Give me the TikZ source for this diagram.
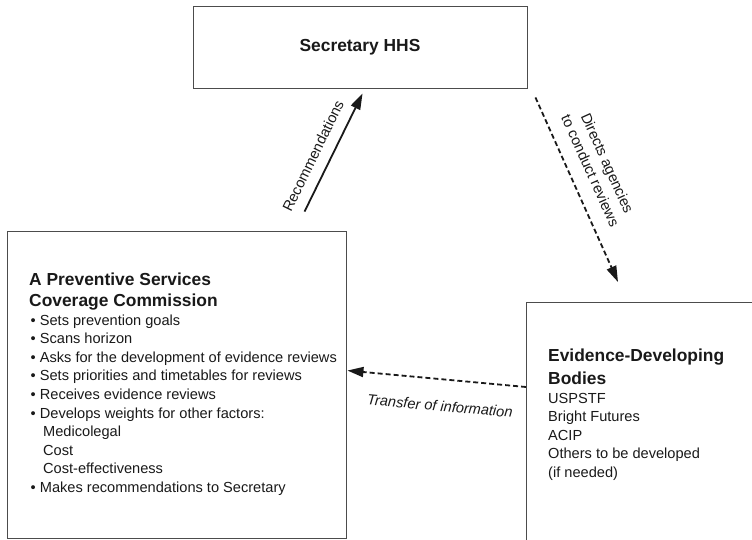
\documentclass[tikz,border=0pt]{standalone}
\usepackage{fontspec}
\setmainfont{Liberation Sans}
\usetikzlibrary{arrows.meta,calc}
\begin{document}
\begin{tikzpicture}[x=1pt,y=-1pt,
  box/.style={draw=black!70, line width=0.9pt, rectangle, inner sep=0pt},
  ttl/.style={font=\fontsize{17.4}{21}\selectfont\bfseries, anchor=base west, inner sep=0pt, text=black!90},
  txt/.style={font=\fontsize{14.6}{18.6}\selectfont, anchor=base west, inner sep=0pt, text=black!90},
  solidarrow/.style={line width=1.8pt, draw=black!90, -{Triangle[length=16pt,width=10pt]}},
  dasharrow/.style={line width=1.8pt, draw=black!90, dash pattern=on 5pt off 3pt, -{Triangle[length=16pt,width=10pt]}}]
\useasboundingbox (0,0) rectangle (752,540);
\clip (0,0) rectangle (752,540);

% boxes
\node[box, minimum width=334pt, minimum height=82pt, text=black!90,
      font=\fontsize{17.4}{21}\selectfont\bfseries] (hhs) at (360,47) {Secretary HHS};
\node[box, minimum width=339pt, minimum height=307pt] (lbox) at (176.5,384.5) {};
\node[box, minimum width=300pt, minimum height=300pt, anchor=north west] (rbox) at (526,302) {};

% left box text
\node[ttl] (lt1) at (29,285) {A Preventive Services};
\node[ttl] (lt2) at (29,306) {Coverage Commission};
\node[txt] (l1) at (30.5,325) {• Sets prevention goals};
\node[txt] (l2) at (30.5,343.6) {• Scans horizon};
\node[txt] (l3) at (30.5,362.2) {• Asks for the development of evidence reviews};
\node[txt] (l4) at (30.5,380.8) {• Sets priorities and timetables for reviews};
\node[txt] (l5) at (30.5,399.4) {• Receives evidence reviews};
\node[txt] (l6) at (30.5,418) {• Develops weights for other factors:};
\node[txt] (l7) at (43,436.6) {Medicolegal};
\node[txt] (l8) at (43,455.2) {Cost};
\node[txt] (l9) at (43,473.8) {Cost-effectiveness};
\node[txt] (l10) at (30.5,492.4) {• Makes recommendations to Secretary};

% right box text
\node[ttl] (rt1) at (548,361) {Evidence-Developing};
\node[ttl] (rt2) at (548,384) {Bodies};
\node[txt] (r1) at (548,403) {USPSTF};
\node[txt] (r2) at (548,421.5) {Bright Futures};
\node[txt] (r3) at (548,440) {ACIP};
\node[txt] (r4) at (548,458.5) {Others to be developed};
\node[txt] (r5) at (548,477) {(if needed)};

% connectors
\draw[solidarrow] ($(lbox.north west)+(298,-19)$) -- ($(hhs.south west)+(170,5)$);
\draw[dasharrow] ($(hhs.south east)+(8,9)$) -- ($(rbox.north west)+(92,-20)$);
\draw[dasharrow] ($(rbox.north west)+(0,85)$) -- ($(lbox.north east)+(1,140)$);

% labels
\node[txt, anchor=center, rotate=64] (reclbl) at (313,156) {Recommendations};
\node[txt, anchor=center, rotate=-65.7, align=center] (dirlbl) at (599,167) {Directs agencies\\to conduct reviews};
\node[txt, anchor=center, rotate=-5.1, font=\fontsize{14.6}{18.6}\selectfont\itshape] (trlbl) at (440,406) {Transfer of information};
\end{tikzpicture}
\end{document}
